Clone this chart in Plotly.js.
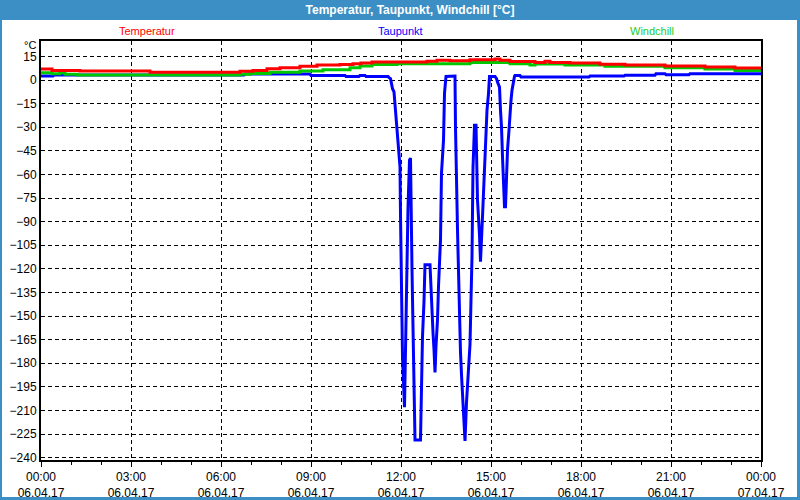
<!DOCTYPE html>
<html>
<head>
<meta charset="utf-8">
<script src="https://cdn.plot.ly/plotly-3.0.1.min.js"></script>
<style>
html,body{margin:0;padding:0;background:#fff;}
#chart{width:800px;height:500px;}
</style>
</head>
<body>
<div id="chart"></div>
<script>
// ---- data ----
const day0 = "2017-04-06";
const day1 = "2017-04-07";

const tempTimes = ["00:00","00:22","01:18","03:38","06:38","07:04","07:32","07:58","08:38","09:12","09:58","10:24","10:40","11:02","12:52","13:12","13:38","14:18","15:08","15:18","15:38","16:28","16:48","16:58","17:38","18:38","19:28","20:48","22:08","23:08","24:00"];
const tempValues = [7.0,6.1,5.7,4.9,5.5,6.1,7.2,7.8,8.7,9.5,9.8,10.4,10.8,11.4,12.0,12.5,12.3,12.9,13.3,12.5,11.8,11.2,12.0,11.2,10.8,10.1,9.5,8.9,8.2,7.6,7.6];

const windTimes = ["00:00","00:22","00:38","00:48","01:12","06:38","06:58","07:38","08:38","09:24","10:18","10:38","11:02","11:52","14:18","15:38","16:18","16:28","17:28","18:48","20:48","22:08","23:08","24:00"];
const windValues = [4.7,4.0,4.7,3.6,3.2,3.6,4.2,4.9,5.7,6.6,7.8,8.9,9.9,10.4,11.2,10.4,9.5,10.2,9.5,8.7,7.8,7.0,6.1,6.1];

const dewTimes = ["00:00","00:24","00:26","06:46","06:48","08:58","09:00","10:08","10:10","10:36","10:38","10:48","10:50","11:34",
  "11:36","11:39","11:41","11:43","11:46","11:48","11:51","11:53","11:56","11:58","11:59","12:01","12:03","12:07","12:10","12:13","12:14","12:17","12:19",
  "12:22","12:25","12:27","12:28","12:39","12:41","12:43","12:46","12:48","12:58","13:01","13:04","13:06","13:08","13:10","13:13","13:15","13:17","13:19",
  "13:21","13:25","13:27","13:30","13:48","13:49","13:53","13:55","13:57","13:59","14:01","14:03","14:05","14:08","14:11","14:13","14:16","14:18","14:20",
  "14:22","14:24","14:27","14:30","14:33","14:37","14:39","14:43","14:45","14:47","14:49","14:52","14:55","14:57","15:08","15:11","15:13","15:17","15:19",
  "15:21","15:23","15:25","15:27","15:29","15:31","15:33","15:36","15:38","15:40","15:42","15:45","15:47","15:48","15:58","16:00",
  "18:16","18:18","19:26","19:28","20:28","20:30","20:48","20:50","21:36","21:38","24:00"];
const dewValues = [2.5,2.5,3.2,3.2,3.8,3.8,2.9,2.9,2.3,2.3,2.9,2.9,2.3,2.3,
  1.5,0.9,-2.3,-5.5,-7.6,-15.0,-24.5,-35.1,-44.6,-55.2,-85.8,-147,-176.4,-208,-144.7,-107.9,-81.3,-50.9,-49.6,
  -120.6,-192.2,-206.2,-228.8,-228.8,-193.5,-162.9,-140.7,-117.4,-117.4,-146,-160.5,-171.3,-185.9,-169.2,-152.3,-131.2,-107.9,-101.6,
  -59.1,-38.2,-8.4,2.3,2.5,-29.8,-95.3,-127,-159.7,-173.2,-187.2,-200.9,-215.7,-229.4,-204.9,-192.2,-180.8,-168.1,-139.6,
  -112.2,-56,-28.7,-28.7,-76.3,-98.4,-115.4,-86.8,-71.8,-52.8,-36.1,-19.2,-8.6,2.3,2.3,0.9,-1.3,-4.5,-19.2,
  -29.8,-48.8,-64.7,-80.5,-80.5,-57.2,-44.6,-31.9,-19.2,-12.9,-6.5,-0.2,2.3,2.8,2.8,1.9,
  1.9,2.5,2.5,3.0,3.0,4.0,4.0,3.4,3.4,4.0,4.0];

const seriesNames = ["Temperatur","Taupunkt","Windchill"];
const seriesColors = ["#ff0000","#0000ff","#00c800"];
const legendTextColors = ["#ff0000","#0000ff","#22cc22"];

const tickTimes = ["00:00","03:00","06:00","09:00","12:00","15:00","18:00","21:00","24:00"];
const tickText = ["00:00<br>06.04.17","03:00<br>06.04.17","06:00<br>06.04.17","09:00<br>06.04.17","12:00<br>06.04.17","15:00<br>06.04.17","18:00<br>06.04.17","21:00<br>06.04.17","00:00<br>07.04.17"];
const yTicks = [15,0,-15,-30,-45,-60,-75,-90,-105,-120,-135,-150,-165,-180,-195,-210,-225,-240];

// ---- helpers ----
function toDate(t){ return t === "24:00" ? day1 + " 00:00" : day0 + " " + t; }

const FONT = "Liberation Sans, Arial, sans-serif";

const traces = [
  {x: dewTimes.map(toDate), y: dewValues, name: seriesNames[1], mode: "lines",
   line: {color: seriesColors[1], width: 3}},
  {x: windTimes.map(toDate), y: windValues, name: seriesNames[2], mode: "lines",
   line: {color: seriesColors[2], width: 3, shape: "hv"}},
  {x: tempTimes.map(toDate), y: tempValues, name: seriesNames[0], mode: "lines",
   line: {color: seriesColors[0], width: 3, shape: "hv"}}
];

const L = 41, R = 761, T = 41, B = 460;
const px = X => (X - L) / (R - L);
const py = Y => (B - Y) / (B - T);
const border = "rgb(60,143,196)";

const layout = {
  width: 800, height: 500,
  margin: {l: L, r: 800 - R, t: T, b: 500 - B, pad: 0},
  paper_bgcolor: "#ffffff", plot_bgcolor: "#ffffff",
  showlegend: false,
  font: {family: FONT, size: 12, color: "#000"},
  title: {text: "<b>Temperatur, Taupunkt, Windchill [°C]</b>", x: 0.5125, xanchor: "center",
          y: 1 - 10/500, yanchor: "middle", yref: "container",
          font: {family: FONT, size: 12, color: "#ffffff"}},
  xaxis: {
    type: "date", range: [toDate("00:00"), toDate("24:00")],
    tickmode: "array", tickvals: tickTimes.map(toDate), ticktext: tickText,
    ticks: "outside", ticklen: 5, tickwidth: 1, tickcolor: "#000",
    showgrid: true, gridcolor: "#000", gridwidth: 1, griddash: "4px,3px",
    showline: true, linecolor: "#000", linewidth: 2, mirror: true, zeroline: false,
    tickfont: {family: FONT, size: 12, color: "#000"},
    minor: {dtick: 3600000, tick0: toDate("00:00"), ticks: "outside", ticklen: 3, tickcolor: "#000", showgrid: false},
    fixedrange: true
  },
  yaxis: {
    range: [-241.5, 24.8], tickmode: "array", tickvals: yTicks,
    ticks: "", showgrid: true, gridcolor: "#000", gridwidth: 1, griddash: "4px,3px",
    showline: true, linecolor: "#000", linewidth: 2, mirror: true, zeroline: false,
    tickfont: {family: FONT, size: 12, color: "#000"},
    fixedrange: true
  },
  shapes: [
    {type: "rect", xref: "paper", yref: "paper", x0: px(0), x1: px(800), y0: py(20), y1: py(0), fillcolor: border, line: {width: 0}, layer: "below"},
    {type: "rect", xref: "paper", yref: "paper", x0: px(0), x1: px(2), y0: py(500), y1: py(0), fillcolor: border, line: {width: 0}, layer: "below"},
    {type: "rect", xref: "paper", yref: "paper", x0: px(797), x1: px(800), y0: py(500), y1: py(0), fillcolor: border, line: {width: 0}, layer: "below"},
    {type: "rect", xref: "paper", yref: "paper", x0: px(0), x1: px(800), y0: py(500), y1: py(497), fillcolor: border, line: {width: 0}, layer: "below"}
  ],
  annotations: [
    {text: seriesNames[0], xref: "paper", yref: "paper", x: px(147), y: py(31), showarrow: false, xanchor: "center", yanchor: "middle", font: {family: FONT, size: 11, color: legendTextColors[0]}},
    {text: seriesNames[1], xref: "paper", yref: "paper", x: px(400), y: py(31), showarrow: false, xanchor: "center", yanchor: "middle", font: {family: FONT, size: 11, color: legendTextColors[1]}},
    {text: seriesNames[2], xref: "paper", yref: "paper", x: px(652), y: py(31), showarrow: false, xanchor: "center", yanchor: "middle", font: {family: FONT, size: 11, color: legendTextColors[2]}},
    {text: "°C", xref: "paper", yref: "paper", x: px(38), y: py(45), showarrow: false, xanchor: "right", yanchor: "middle", font: {family: FONT, size: 11, color: "#000"}}
  ]
};

Plotly.newPlot("chart", traces, layout, {staticPlot: true, displayModeBar: false});
</script>
</body>
</html>
